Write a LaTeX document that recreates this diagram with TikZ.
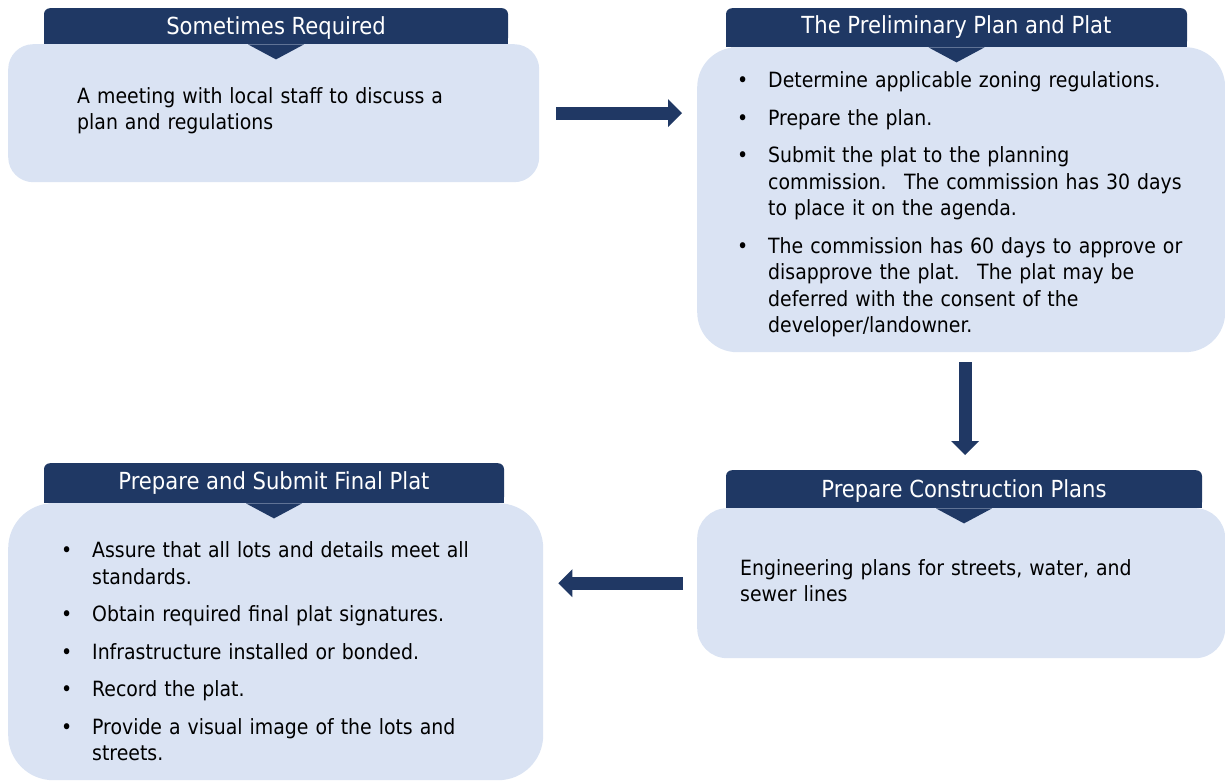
\documentclass[tikz,border=0pt]{standalone}
\usepackage{fontspec}
\setmainfont{DejaVu Sans Condensed}
\usetikzlibrary{arrows.meta,calc}

\definecolor{tabblue}{HTML}{1F3864}
\definecolor{panelblue}{HTML}{DAE3F3}
\definecolor{arrowblue}{HTML}{203864}

\newcommand\titlefont{\fontsize{23.5}{28}\selectfont}
\newcommand\bodyfont{\fontsize{21}{26.5}\selectfont\setlength\parskip{11pt}}
% one bullet point with hanging lines
\newcommand\bul[1]{\par\hangindent=31pt\hangafter=1\noindent\makebox[31pt][l]{\textbullet}#1\par}
% small pointer under a heading tab
\newcommand\tabpointer[1]{\fill[tabblue] ([xshift=-28pt]#1.south) -- ([xshift=28pt]#1.south) -- ([yshift=-15pt]#1.south) -- cycle;}

\tikzset{
  tab/.style={fill=tabblue, rounded corners=6pt, text=white, font=\titlefont, inner sep=0pt,
    text height=19pt, text depth=2pt, anchor=north,
    append after command={\pgfextra{\let\tabnode\tikzlastnode
      \fill[tabblue, sharp corners] ([yshift=7pt]\tabnode.south west) rectangle (\tabnode.south east);}}},
  panel/.style={fill=panelblue, inner sep=0pt, anchor=north west},
  body/.style={anchor=north west, inner sep=0pt, text width=#1, align=left, font=\bodyfont},
  blockarrow/.style={draw=arrowblue, line width=13pt, -{Triangle[length=14pt, width=28pt, line width=0pt]}}
}

\begin{document}
\begin{tikzpicture}[x=1pt,y=-1pt]
\useasboundingbox (0,0) rectangle (1225,781);

% sometimes required
\node[tab, minimum width=464, minimum height=36] (meettab) at (276,8) {Sometimes Required};
\node[panel, rounded corners=25pt, minimum width=531, minimum height=138] (meet) at (8,44) {};
\tabpointer{meettab}
\node[body=420pt] (meettxt) at (77,87) {A meeting with local staff to discuss a\\ plan and regulations};

% preliminary plan
\node[tab, text height=14pt, minimum width=461, minimum height=39] (prelimtab) at (956.5,8) {The Preliminary Plan and Plat};
\node[panel, rounded corners=40pt, minimum width=528, minimum height=305] (prelim) at (697,47) {};
\tabpointer{prelimtab}
\node[body=480pt] (prelimtxt) at (737,50) {%
  \bul{Determine applicable zoning regulations.}
  \bul{Prepare the plan.}
  \bul{Submit the plat to the planning\break commission.~ The commission has 30 days\break to place it on the agenda.}
  \bul{The commission has 60 days to approve or\break disapprove the plat.~ The plat may be\break deferred with the consent of the\break developer/landowner.}};

% construction plans
\node[tab, minimum width=476, minimum height=38] (constrtab) at (964,470) {Prepare Construction Plans};
\node[panel, rounded corners=30pt, minimum width=528, minimum height=150] (constr) at (697,508) {};
\tabpointer{constrtab}
\node[body=440pt] (constrtxt) at (740,559) {Engineering plans for streets, water, and\\ sewer lines};

% final plat
\node[tab, text height=14pt, minimum width=460, minimum height=40] (finaltab) at (274,463) {Prepare and Submit Final Plat};
\node[panel, rounded corners=45pt, minimum width=535, minimum height=277] (final) at (8,503) {};
\tabpointer{finaltab}
\node[body=470pt] (finaltxt) at (61,520) {%
  \bul{Assure that all lots and details meet all\break standards.}
  \bul{Obtain required final plat signatures.}
  \bul{Infrastructure installed or bonded.}
  \bul{Record the plat.}
  \bul{Provide a visual image of the lots and\break streets.}};

% arrows between the steps
\draw[blockarrow] ([xshift=17pt]meet.east) -- ([xshift=-15pt]prelim.west |- meet.east);
\draw[blockarrow] ($(prelim.south)+(4,10)$) -- ($(prelim.south |- constrtab.north)+(4,-15)$);
\draw[blockarrow] ([xshift=-14pt]constr.west) -- ([xshift=15pt]final.east |- constr.west);
\end{tikzpicture}
\end{document}
